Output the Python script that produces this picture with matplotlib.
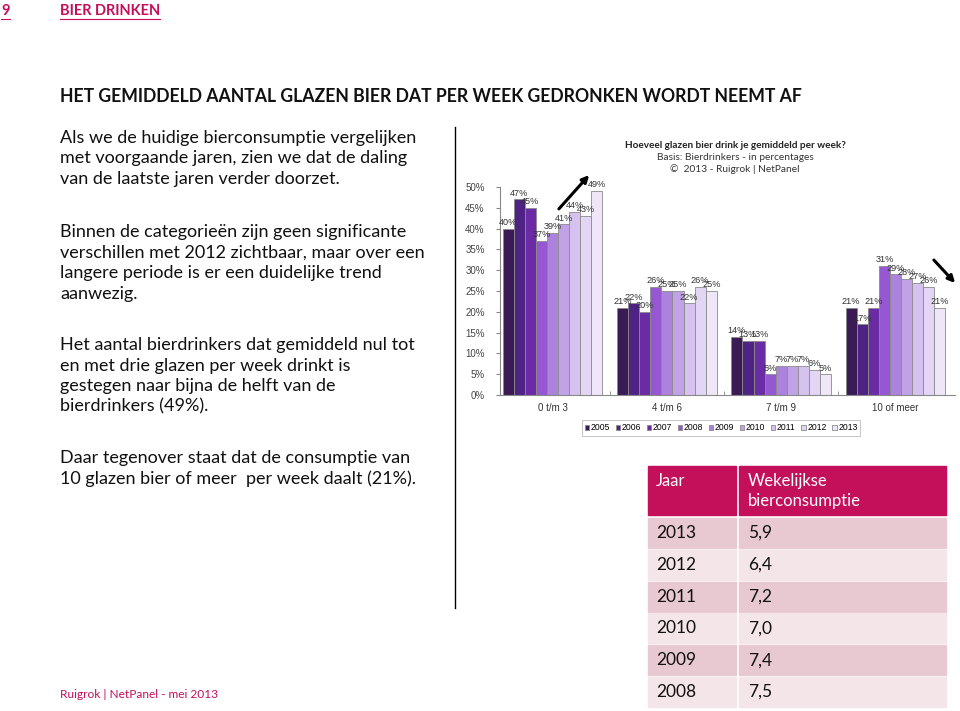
import numpy as np
import matplotlib
matplotlib.use('Agg')
import matplotlib.pyplot as plt
from matplotlib.patches import Rectangle

# ---- data ----
categorieen = ['0 t/m 3', '4 t/m 6', '7 t/m 9', '10 of meer']
jaren = ['2005', '2006', '2007', '2008', '2009', '2010', '2011', '2012', '2013']
pct_0_3 = [40, 47, 45, 37, 39, 41, 44, 43, 49]
pct_4_6 = [21, 22, 20, 26, 25, 25, 22, 26, 25]
pct_7_9 = [14, 13, 13, 5, 7, 7, 7, 6, 5]
pct_10 = [21, 17, 21, 31, 29, 28, 27, 26, 21]

tabel_jaar = ['2013', '2012', '2011', '2010', '2009', '2008']
tabel_consumptie = ['5,9', '6,4', '7,2', '7,0', '7,4', '7,5']

kleuren = ['#3b1b55', '#4e2384', '#6a2ba4', '#9558d2', '#ab82dc',
           '#c2a2e6', '#d6c2ef', '#e3d6f4', '#efe7f9']
roze = '#c40f5a'

alinea_1 = ['Als we de huidige bierconsumptie vergelijken',
            'met voorgaande jaren, zien we dat de daling',
            'van de laatste jaren verder doorzet.']
alinea_2 = ['Binnen de categorieën zijn geen significante',
            'verschillen met 2012 zichtbaar, maar over een',
            'langere periode is er een duidelijke trend',
            'aanwezig.']
alinea_3 = ['Het aantal bierdrinkers dat gemiddeld nul tot',
            'en met drie glazen per week drinkt is',
            'gestegen naar bijna de helft van de',
            'bierdrinkers (49%).']
alinea_4 = ['Daar tegenover staat dat de consumptie van',
            '10 glazen bier of meer  per week daalt (21%).']

plt.rcParams['font.family'] = ['Lato', 'DejaVu Sans']

fig = plt.figure(figsize=(9.6, 7.11), dpi=100)

# achtergrond-assen in pixels voor de tekst en de tabel
ax0 = fig.add_axes([0, 0, 1, 1])
ax0.set_xlim(0, 960)
ax0.set_ylim(711, 0)
ax0.axis('off')

# kop
ax0.text(1, 11, '9', color=roze, fontsize=10.5, fontweight='bold', va='center')
ax0.plot([1, 10], [19, 19], color=roze, lw=0.8)
ax0.text(60, 11, 'BIER DRINKEN', color=roze, fontsize=10.5, fontweight='bold', va='center')
ax0.plot([60, 160], [19, 19], color=roze, lw=0.8)

ax0.text(60, 96, 'HET GEMIDDELD AANTAL GLAZEN BIER DAT PER WEEK GEDRONKEN WORDT NEEMT AF',
         fontsize=12.7, fontweight='bold', color='#111111', va='center')

# alinea's links
for regels, y0 in [(alinea_1, 138), (alinea_2, 232), (alinea_3, 345), (alinea_4, 458)]:
    for i, regel in enumerate(regels):
        ax0.text(60, y0 + i * 20.5, regel, fontsize=13, color='#111111', va='center')

ax0.text(60, 694, 'Ruigrok | NetPanel - mei 2013', color=roze, fontsize=8.6, va='center')

# verticale lijn
ax0.plot([455, 455], [127, 608], color='black', lw=1)

# grafiek titel
ax0.text(735, 145, 'Hoeveel glazen bier drink je gemiddeld per week?', ha='center',
         va='center', fontsize=7.2, fontweight='bold', color='#222222')
ax0.text(735, 157, 'Basis: Bierdrinkers - in percentages', ha='center', va='center',
         fontsize=7.3, color='#333333')
ax0.text(735, 169, '©  2013 - Ruigrok | NetPanel', ha='center', va='center',
         fontsize=7.3, color='#333333')

# pijlen
ax0.annotate('', xy=(591, 173), xytext=(557, 211),
             arrowprops=dict(arrowstyle='-|>', color='black', lw=2.2, mutation_scale=10))
ax0.annotate('', xy=(957, 285), xytext=(932, 258),
             arrowprops=dict(arrowstyle='-|>', color='black', lw=2.2, mutation_scale=10))

# tabel
ax0.add_patch(Rectangle((648, 466), 88, 49, color=roze))
ax0.add_patch(Rectangle((739, 466), 207, 49, color=roze))
ax0.text(656, 481, 'Jaar', color='white', fontsize=12, va='center')
ax0.text(748, 481, 'Wekelijkse', color='white', fontsize=12, va='center')
ax0.text(748, 501, 'bierconsumptie', color='white', fontsize=12, va='center')
for i, (jaar, waarde) in enumerate(zip(tabel_jaar, tabel_consumptie)):
    y = 518 + i * 31.8
    kleur = '#e8c9d1' if i % 2 == 0 else '#f4e5e9'
    ax0.add_patch(Rectangle((648, y), 88, 30, color=kleur))
    ax0.add_patch(Rectangle((739, y), 207, 30, color=kleur))
    ax0.text(656, y + 15, jaar, fontsize=12.5, color='#111111', va='center')
    ax0.text(748, y + 15, waarde, fontsize=12.5, color='#111111', va='center')

# staafdiagram
ax = fig.add_axes([500 / 960, 1 - 395 / 711, 455 / 960, 208 / 711])
ax.patch.set_alpha(0)
waarden = np.array([pct_0_3, pct_4_6, pct_7_9, pct_10])
x = np.arange(len(categorieen))
w = 0.097
for j, jaar in enumerate(jaren):
    pos = x + (j - 4) * w
    ax.bar(pos, waarden[:, j], width=w, color=kleuren[j], edgecolor='#8a8a8a',
           linewidth=0.6, label=jaar)
    for px, v in zip(pos, waarden[:, j]):
        ax.text(px, v + 0.4, '%d%%' % v, ha='center', va='bottom', fontsize=6.6,
                color='#333333', family='Liberation Sans', clip_on=False)

ax.set_xlim(-0.46, 3.52)
ax.set_ylim(0, 50)
ax.set_yticks(np.arange(0, 51, 5))
ax.set_yticklabels(['%d%%' % t for t in range(0, 51, 5)], family='Liberation Sans',
                   fontsize=7, color='#444444')
ax.set_xticks(x)
ax.set_xticklabels(categorieen, family='Liberation Sans', fontsize=7, color='#333333')
ax.tick_params(axis='x', length=0, pad=6)
ax.tick_params(axis='y', length=3, color='#888888', pad=8)
ax.set_xticks(x[:-1] + 0.5, minor=True)
ax.tick_params(axis='x', which='minor', length=3, color='#888888', direction='in')
for s in ['top', 'right']:
    ax.spines[s].set_visible(False)
ax.spines['left'].set_color('#888888')
ax.spines['bottom'].set_color('#888888')

leg = ax.legend(loc='center', bbox_to_anchor=(721 / 960, 1 - 428 / 711),
                bbox_transform=fig.transFigure, ncol=9,
                frameon=True, fancybox=False, handlelength=0.55, handleheight=0.55,
                handletextpad=0.2, columnspacing=0.6, borderpad=0.35,
                prop={'family': 'Liberation Sans', 'size': 6.2})
leg.get_frame().set_edgecolor('#aaaaaa')
leg.get_frame().set_linewidth(0.6)

plt.savefig('out.png', dpi=100)
